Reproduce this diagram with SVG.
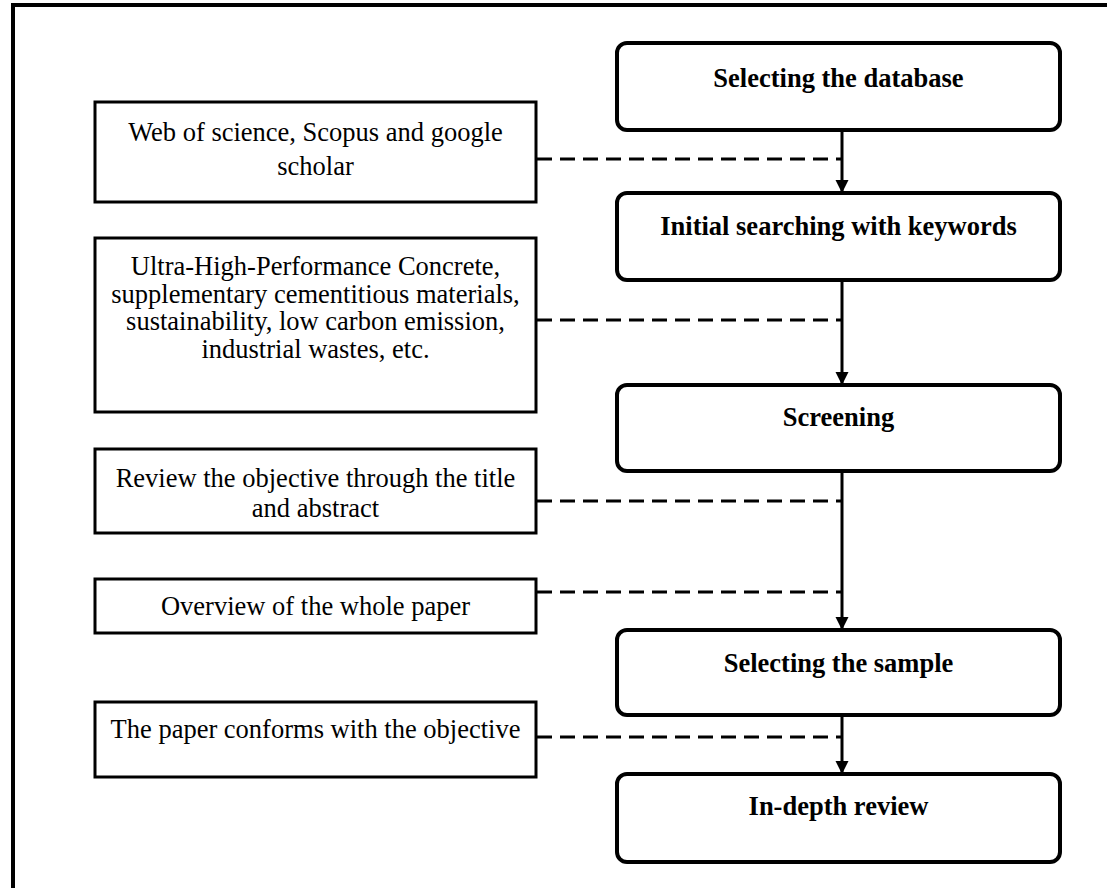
<svg xmlns="http://www.w3.org/2000/svg" width="1107" height="888" viewBox="0 0 1107 888">
<style>
  .step { fill: #fff; stroke: #000; stroke-width: 4; }
  .note { fill: #fff; stroke: #000; stroke-width: 3; }
  .bold { font-family: "Liberation Serif", "Times New Roman", serif; font-size: 26.5px; font-weight: bold; text-anchor: middle; fill: #000; }
  .reg { font-family: "Liberation Serif", "Times New Roman", serif; font-size: 26.5px; text-anchor: middle; fill: #000; }
  .dash { stroke: #000; stroke-width: 3; stroke-dasharray: 15 8; fill: none; }
  .flow { stroke: #000; stroke-width: 3; fill: none; marker-end: url(#arrow); }
</style>
<defs>
  <marker id="arrow" markerUnits="userSpaceOnUse" markerWidth="14" markerHeight="14" refX="13" refY="6.5" orient="auto">
    <path d="M0,0 L13,6.5 L0,13 z" fill="#000"/>
  </marker>
</defs>
<rect width="1107" height="888" fill="#fff"/>
<path d="M13,888 L13,5 L1107,5" fill="none" stroke="#000" stroke-width="4"/>

<g id="connectors">
  <line class="dash" x1="537" y1="159" x2="842" y2="159"/>
  <line class="dash" x1="537" y1="320" x2="842" y2="320"/>
  <line class="dash" x1="537" y1="501" x2="842" y2="501"/>
  <line class="dash" x1="537" y1="592" x2="842" y2="592"/>
  <line class="dash" x1="537" y1="737" x2="842" y2="737"/>
  <line class="flow" x1="842" y1="130" x2="842" y2="193"/>
  <line class="flow" x1="842" y1="280" x2="842" y2="385"/>
  <line class="flow" x1="842" y1="471" x2="842" y2="630"/>
  <line class="flow" x1="842" y1="715" x2="842" y2="774"/>
</g>

<g id="step-database">
  <rect class="step" x="617" y="43" width="443" height="87" rx="10"/>
  <text class="bold" x="838.5" y="87">Selecting the database</text>
</g>
<g id="step-search">
  <rect class="step" x="617" y="193" width="443" height="87" rx="10"/>
  <text class="bold" x="838.5" y="235">Initial searching with keywords</text>
</g>
<g id="step-screening">
  <rect class="step" x="617" y="385" width="443" height="86" rx="10"/>
  <text class="bold" x="838.5" y="426">Screening</text>
</g>
<g id="step-sample">
  <rect class="step" x="617" y="630" width="443" height="85" rx="10"/>
  <text class="bold" x="838.5" y="672">Selecting the sample</text>
</g>
<g id="step-review">
  <rect class="step" x="617" y="774" width="443" height="88" rx="10"/>
  <text class="bold" x="838.5" y="815">In-depth review</text>
</g>

<g id="note-databases">
  <rect class="note" x="95" y="102" width="441" height="100"/>
  <text class="reg" x="315.5" y="141">Web of science, Scopus and google</text>
  <text class="reg" x="315.5" y="175">scholar</text>
</g>
<g id="note-keywords">
  <rect class="note" x="95" y="238" width="441" height="174"/>
  <text class="reg" x="315.5" y="275">Ultra-High-Performance Concrete,</text>
  <text class="reg" x="315.5" y="302.7">supplementary cementitious materials,</text>
  <text class="reg" x="315.5" y="330.4">sustainability, low carbon emission,</text>
  <text class="reg" x="315.5" y="358">industrial wastes, etc.</text>
</g>
<g id="note-title">
  <rect class="note" x="95" y="449" width="441" height="84"/>
  <text class="reg" x="315.5" y="487">Review the objective through the title</text>
  <text class="reg" x="315.5" y="517">and abstract</text>
</g>
<g id="note-overview">
  <rect class="note" x="95" y="579" width="441" height="54"/>
  <text class="reg" x="315.5" y="615">Overview of the whole paper</text>
</g>
<g id="note-conforms">
  <rect class="note" x="95" y="702" width="441" height="75"/>
  <text class="reg" x="315.5" y="738">The paper conforms with the objective</text>
</g>
</svg>
